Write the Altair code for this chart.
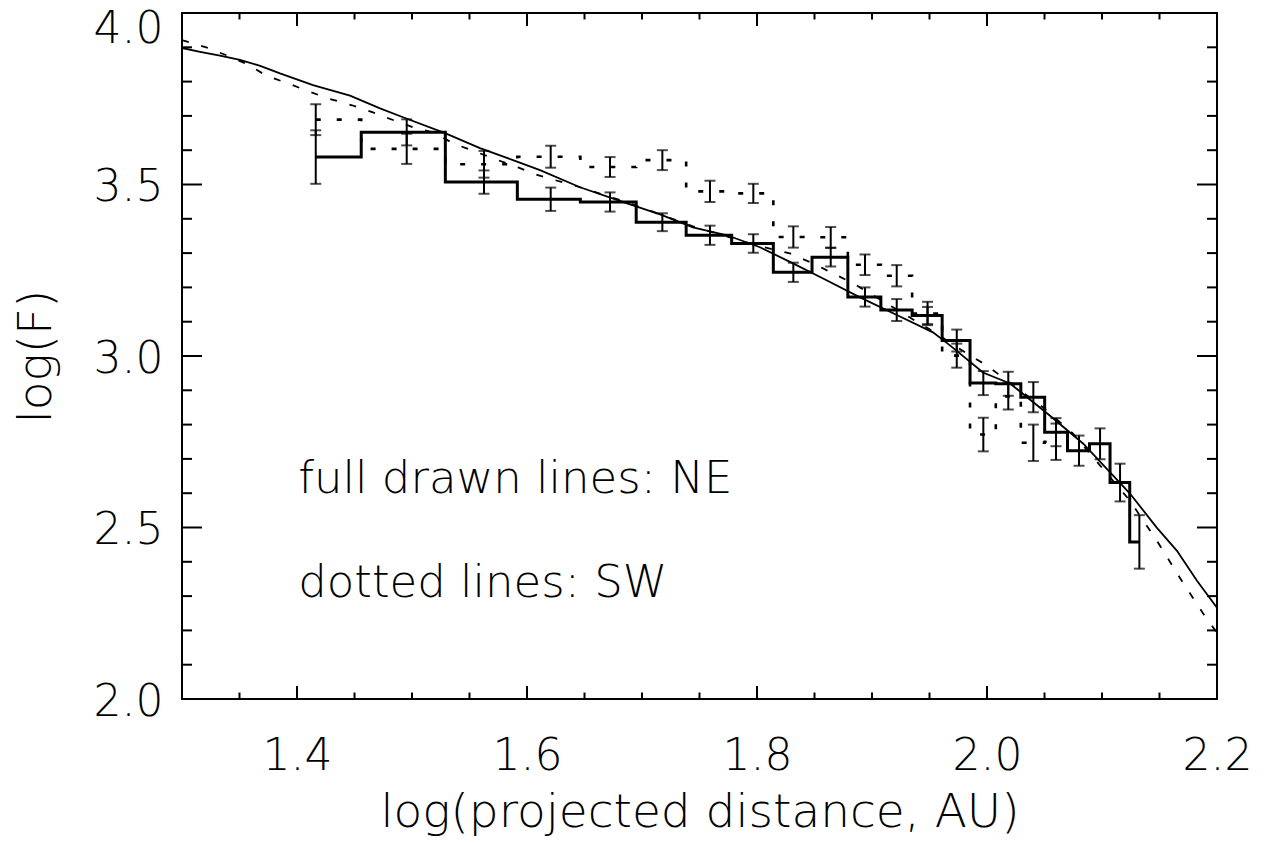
import altair as alt
import pandas as pd

# ---------------- data ----------------
# NE profile (full drawn histogram + error bars)
ne_x = [1.4163, 1.4954, 1.5626, 1.6206, 1.6722, 1.7177, 1.7591, 1.7968, 1.8316, 1.8641, 1.8939,
        1.9215, 1.9483, 1.9737, 1.9968, 2.0185, 2.0403, 2.0600, 2.0800, 2.0983, 2.1157, 2.1325]
ne_y = [3.580, 3.652, 3.507, 3.457, 3.449, 3.390, 3.352, 3.328, 3.244, 3.288, 3.172,
        3.134, 3.118, 3.045, 2.921, 2.919, 2.880, 2.778, 2.724, 2.744, 2.631, 2.458]
ne_err = [0.078, 0.038, 0.034, 0.034, 0.028, 0.026, 0.028, 0.027, 0.028, 0.027, 0.028,
          0.032, 0.025, 0.032, 0.035, 0.035, 0.044, 0.041, 0.044, 0.045, 0.055, 0.078]

# SW profile (dotted histogram + error bars)
sw_x = [1.4163, 1.4954, 1.5626, 1.6206, 1.6722, 1.7177, 1.7591, 1.7968, 1.8316, 1.8641, 1.8939,
        1.9215, 1.9483, 1.9737, 1.9968, 2.0185, 2.0403, 2.0600]
sw_y = [3.689, 3.604, 3.559, 3.581, 3.551, 3.571, 3.480, 3.474, 3.347, 3.346, 3.266,
        3.234, 3.124, 3.001, 2.771, 2.882, 2.747, 2.750]
sw_err = [0.045, 0.044, 0.039, 0.032, 0.029, 0.029, 0.031, 0.028, 0.031, 0.030, 0.030,
          0.031, 0.034, 0.035, 0.049, 0.038, 0.053, 0.053]

# model curve, full drawn
model_ne_x = [1.300, 1.3157, 1.3330, 1.3504, 1.3680, 1.3852, 1.4139, 1.4461, 1.4722, 1.4922, 1.5287,
              1.5591, 1.5878, 1.6113, 1.6461, 1.6870, 1.7157, 1.7443, 1.7739, 1.8026, 1.8313, 1.8609,
              1.8896, 1.9243, 1.9530, 1.9678, 1.9965, 2.0200, 2.0548, 2.0835, 2.1243, 2.1478, 2.1652,
              2.1826, 2.2000]
model_ne_y = [3.898, 3.887, 3.876, 3.863, 3.846, 3.824, 3.790, 3.759, 3.722, 3.696, 3.650,
              3.606, 3.571, 3.542, 3.492, 3.445, 3.413, 3.375, 3.352, 3.317, 3.270, 3.220,
              3.171, 3.115, 3.069, 3.031, 2.952, 2.920, 2.826, 2.745, 2.599, 2.499, 2.432,
              2.345, 2.266]

# model curve, dashed
model_sw_x = [1.300, 1.3217, 1.3400, 1.3574, 1.3739, 1.3922, 1.4096, 1.4270, 1.4478, 1.4661, 1.4835,
              1.5009, 1.5200, 1.5357, 1.5748, 1.5922, 1.6096, 1.6461, 1.6870, 1.7443, 1.8026, 1.8287,
              1.8487, 1.8661, 1.8835, 1.9009, 1.9183, 1.9330, 1.9504, 1.9826, 2.0000, 2.0487, 2.0748,
              2.1000, 2.1243, 2.1478, 2.1678, 2.1878, 2.2000]
model_sw_y = [3.921, 3.899, 3.875, 3.850, 3.816, 3.795, 3.772, 3.751, 3.731, 3.710, 3.688,
              3.667, 3.650, 3.620, 3.571, 3.550, 3.527, 3.492, 3.448, 3.378, 3.320, 3.299,
              3.270, 3.241, 3.212, 3.177, 3.142, 3.112, 3.077, 3.007, 2.972, 2.850, 2.774,
              2.674, 2.578, 2.461, 2.353, 2.250, 2.193]

# axis ticks
x_major = [1.4, 1.6, 1.8, 2.0, 2.2]
x_minor = [1.35, 1.45, 1.5, 1.55, 1.65, 1.7, 1.75, 1.85, 1.9, 1.95, 2.05, 2.1, 2.15]
y_major = [2.0, 2.5, 3.0, 3.5, 4.0]
y_minor = [2.1, 2.2, 2.3, 2.4, 2.6, 2.7, 2.8, 2.9, 3.1, 3.2, 3.3, 3.4, 3.6, 3.7, 3.8, 3.9]

# annotations
note_text = ["full drawn lines: NE", "dotted lines: SW"]
note_x = [1.401, 1.401]
note_y = [2.60, 2.297]

# ---------------- chart ----------------
W, H = 1035, 686
FONT = "DejaVu Sans"
FW = 200

xscale = alt.Scale(domain=[1.3, 2.2], nice=False, zero=False)
yscale = alt.Scale(domain=[2.0, 4.0], nice=False, zero=False)

xaxis = alt.Axis(values=x_major, format=".1f", ticks=False, tickSize=0, domain=False, grid=False,
                 labelFont=FONT, labelFontWeight=FW, labelFontSize=44, labelColor="black",
                 labelPadding=35, labelFlush=False, labelOverlap=False,
                 title="log(projected distance, AU)", titleFont=FONT, titleFontWeight=FW,
                 titleFontSize=47, titleColor="black", titleY=127, titleBaseline="alphabetic")
yaxis = alt.Axis(values=y_major, format=".1f", ticks=False, tickSize=0, domain=False, grid=False,
                 labelFont=FONT, labelFontWeight=FW, labelFontSize=44, labelColor="black",
                 labelPadding=19, labelFlush=False, labelOverlap=False, labelBaseline="middle",
                 labelOffset=alt.condition("datum.value == 4", alt.value(16), alt.value(3)),
                 title="log(F)", titleFont=FONT, titleFontWeight=FW, titleFontSize=47,
                 titleColor="black", titleX=-132, titleY=343, titleAngle=270,
                 titleAlign="center", titleBaseline="alphabetic")


def X(field="x"):
    return alt.X(f"{field}:Q", scale=xscale, axis=xaxis)


def Y(field="y"):
    return alt.Y(f"{field}:Q", scale=yscale, axis=yaxis)


model_ne = pd.DataFrame({"x": model_ne_x, "y": model_ne_y})
model_sw = pd.DataFrame({"x": model_sw_x, "y": model_sw_y})
ne = pd.DataFrame({"x": ne_x, "y": ne_y, "e": ne_err})
sw = pd.DataFrame({"x": sw_x, "y": sw_y, "e": sw_err})
errs = pd.concat([ne, sw], ignore_index=True)
errs["lo"] = errs["y"] - errs["e"]
errs["hi"] = errs["y"] + errs["e"]
caps = pd.DataFrame({"x": list(errs["x"]) * 2, "y": list(errs["lo"]) + list(errs["hi"])})

l_model_ne = alt.Chart(model_ne).mark_line(color="black", strokeWidth=1.8, clip=True).encode(
    x=X(), y=Y(), order="x:Q")
l_model_sw = alt.Chart(model_sw).mark_line(color="black", strokeWidth=1.8, strokeDash=[7, 13],
                                           clip=True).encode(x=X(), y=Y(), order="x:Q")
l_ne = alt.Chart(ne).mark_line(color="black", strokeWidth=3, interpolate="step").encode(
    x=X(), y=Y(), order="x:Q")
l_sw = alt.Chart(sw).mark_line(color="black", strokeWidth=2.6, interpolate="step",
                               strokeDash=[5, 16]).encode(x=X(), y=Y(), order="x:Q")
l_err = alt.Chart(errs).mark_rule(color="black", strokeWidth=2).encode(
    x=X(), y=Y("lo"), y2="hi:Q")
l_caps = alt.Chart(caps).mark_tick(color="black", thickness=2, size=11, orient="horizontal").encode(
    x=X(), y=Y())

xmaj = pd.DataFrame({"x": x_major})
xmin = pd.DataFrame({"x": x_minor})
ymaj = pd.DataFrame({"y": y_major})
ymin = pd.DataFrame({"y": y_minor})

tick_layers = []
for df, ln in ((xmaj, 13), (xmin, 6.5)):
    tick_layers.append(alt.Chart(df).mark_rule(color="black", strokeWidth=2).encode(
        x=X(), y=alt.value(H), y2=alt.value(H - ln)))
    tick_layers.append(alt.Chart(df).mark_rule(color="black", strokeWidth=2).encode(
        x=X(), y=alt.value(0), y2=alt.value(ln)))
for df, ln in ((ymaj, 20), (ymin, 10)):
    tick_layers.append(alt.Chart(df).mark_rule(color="black", strokeWidth=2).encode(
        y=Y(), x=alt.value(0), x2=alt.value(ln)))
    tick_layers.append(alt.Chart(df).mark_rule(color="black", strokeWidth=2).encode(
        y=Y(), x=alt.value(W), x2=alt.value(W - ln)))

notes = pd.DataFrame({"t": note_text, "x": note_x, "y": note_y})
l_notes = alt.Chart(notes).mark_text(align="left", baseline="alphabetic", font=FONT,
                                     fontWeight=FW, fontSize=45, color="black").encode(
    x=X(), y=Y(), text="t:N")

chart = alt.layer(
    l_model_ne, l_model_sw, l_ne, l_sw, l_err, l_caps, *tick_layers, l_notes
).properties(
    width=W, height=H,
    autosize=alt.AutoSizeParams(type="none"),
    padding={"left": 182, "top": 13, "right": 60, "bottom": 145},
    background="white",
).configure_view(stroke="black", strokeWidth=2)

chart.save("out.html", embed_options={"renderer": "svg", "actions": False})
